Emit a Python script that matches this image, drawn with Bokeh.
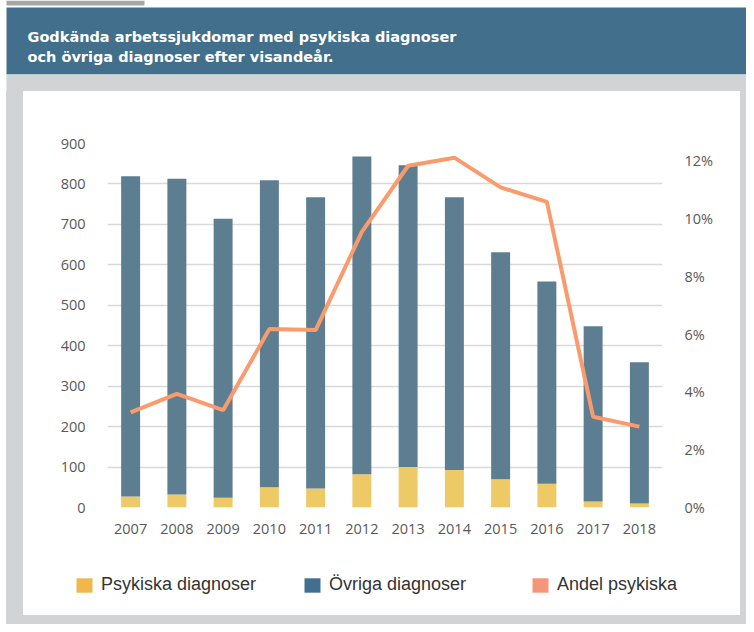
from bokeh.plotting import figure
from bokeh.layouts import column, row
from bokeh.models import (FactorRange, Range1d, LinearAxis, FixedTicker, NumeralTickFormatter,
                          Legend, LegendItem, ColumnDataSource, Div)
from bokeh.core.properties import value
from bokeh.embed import file_html
from bokeh.resources import INLINE

# ---------------- data ----------------
years = ["2007", "2008", "2009", "2010", "2011", "2012",
         "2013", "2014", "2015", "2016", "2017", "2018"]
psykiska = [27, 32, 24, 50, 47, 82, 100, 93, 70, 59, 15, 10]
ovriga = [792, 781, 690, 759, 720, 786, 746, 674, 561, 500, 433, 349]
andel_pct = [3.29, 3.93, 3.37, 6.18, 6.14, 9.54, 11.83, 12.11, 11.08, 10.58, 3.14, 2.80]
left_ticks = [0, 100, 200, 300, 400, 500, 600, 700, 800, 900]
right_ticks_pct = [0, 2, 4, 6, 8, 10, 12]
title_lines = ["Godkända arbetssjukdomar med psykiska diagnoser",
               "och övriga diagnoser efter visandeår."]
legend_labels = ["Psykiska diagnoser", "Övriga diagnoser", "Andel psykiska"]
legend_colors = ["#f1b64c", "#41708f", "#f59678"]

# ---------------- styles ----------------
TOTAL_W = 746
HDR_H = 91
PANEL_W = 717          # white panel width
PANEL_H = 524          # white panel height
MAIN_H = 450
LEG_H = PANEL_H - MAIN_H
BAR_YELLOW = "#eeca66"
BAR_BLUE = "#5c7e90"
LINE_COLOR = "#fa9b6e"
HEADER_BLUE = "#426f8c"
BG_GRAY = "#d1d3d4"
TOP_GRAY = "#a6a6a9"
TICK_COLOR = "#595959"
TICK_FONT = "Open Sans"
TICK_SIZE = "14.5px"


def bare(fig):
    fig.xgrid.grid_line_color = None
    fig.ygrid.grid_line_color = None
    fig.outline_line_color = None
    fig.background_fill_color = "white"
    fig.border_fill_color = "white"
    return fig


# ---------------- header (y measured upward from the header's bottom) ----------------
hdr = bare(figure(width=TOTAL_W, height=HDR_H, x_range=Range1d(0, TOTAL_W), y_range=Range1d(0, HDR_H),
                  min_border=0, x_axis_location=None, y_axis_location=None,
                  output_backend="svg", toolbar_location=None))
hdr.quad(left=[6], right=[144], top=[HDR_H], bottom=[HDR_H - 5], fill_color=TOP_GRAY, line_color=None)
hdr.quad(left=[6], right=[TOTAL_W], top=[HDR_H - 7], bottom=[HDR_H - 74],
         fill_color=HEADER_BLUE, line_color=None)
hdr.quad(left=[6], right=[TOTAL_W], top=[HDR_H - 74], bottom=[0], fill_color=BG_GRAY, line_color=None)
hdr.text(x=[27, 27], y=[HDR_H - 36.7, HDR_H - 56.7], text=title_lines,
         text_font=value("DejaVu Sans"), text_font_style="bold",
         text_font_size="14.5px", text_color="white",
         text_baseline="alphabetic", text_align="left")

# ---------------- main chart ----------------
src = ColumnDataSource(data=dict(
    year=years,
    psyk=psykiska,
    total=[a + b for a, b in zip(psykiska, ovriga)],
    andel=[v / 100.0 for v in andel_pct],
))

p = figure(width=PANEL_W, height=MAIN_H,
           x_range=FactorRange(factors=years, range_padding=0),
           y_range=Range1d(0, 900),
           output_backend="svg", toolbar_location=None,
           min_border_left=84, min_border_right=78,
           min_border_top=52, min_border_bottom=34)
p.extra_y_ranges = {"pct": Range1d(0, 0.126)}
bare(p)

p.vbar(x="year", bottom=0, top="psyk", width=0.41, source=src,
       fill_color=BAR_YELLOW, line_color=None)
p.vbar(x="year", bottom="psyk", top="total", width=0.41, source=src,
       fill_color=BAR_BLUE, line_color=None)
p.line(x="year", y="andel", source=src, y_range_name="pct",
       line_color=LINE_COLOR, line_width=4)

left = p.yaxis[0]
left.ticker = FixedTicker(ticks=left_ticks)
right = LinearAxis(y_range_name="pct",
                   ticker=FixedTicker(ticks=[t / 100.0 for t in right_ticks_pct]),
                   formatter=NumeralTickFormatter(format="0%"))
p.add_layout(right, "right")
for ax, standoff in ((left, 16), (right, 16), (p.xaxis[0], 10)):
    ax.axis_line_color = None
    ax.major_tick_line_color = None
    ax.minor_tick_line_color = None
    ax.major_label_text_font = TICK_FONT
    ax.major_label_text_font_size = TICK_SIZE
    ax.major_label_text_color = TICK_COLOR
    ax.major_label_standoff = standoff

p.ygrid.grid_line_color = "#d9d9d9"
p.ygrid.grid_line_width = 1.5

# ---------------- legend strip ----------------
lg = bare(figure(width=PANEL_W, height=LEG_H,
                 x_range=FactorRange(factors=years), y_range=Range1d(0, 1),
                 min_border=0, x_axis_location=None, y_axis_location=None,
                 output_backend="svg", toolbar_location=None))
items = []
for lbl, col in zip(legend_labels, legend_colors):
    # zero-height swatch renderers: they only supply the legend squares
    r = lg.vbar(x="year", bottom=0, top=0, width=0.1, source=src,
                fill_color=col, line_color=None)
    items.append(LegendItem(label=lbl, renderers=[r]))
leg = Legend(items=items, location=(51, 20), orientation="horizontal",
             border_line_color=None, background_fill_alpha=0,
             padding=0, margin=0, spacing=41,
             glyph_width=20, glyph_height=18, label_standoff=7,
             label_width=160, label_height=18,
             label_text_font="Liberation Sans", label_text_font_size="18px",
             label_text_color="#333333")
lg.add_layout(leg, "center")

# ---------------- gray frame strips ----------------
WHITE_GRAY = f"linear-gradient(to right, #ffffff 6px, {BG_GRAY} 6px)"
RIGHT_W = TOTAL_W - 23 - PANEL_W


def strip(w, h, bg):
    return Div(width=w, height=h, margin=0, text="", styles={"background": bg})


layout = column(
    hdr,
    row(strip(23, MAIN_H, WHITE_GRAY), p, strip(RIGHT_W, MAIN_H, BG_GRAY), spacing=0),
    row(strip(23, LEG_H, WHITE_GRAY), lg, strip(RIGHT_W, LEG_H, BG_GRAY), spacing=0),
    strip(TOTAL_W, 9, WHITE_GRAY),
    spacing=0)

open("out.html", "w").write(file_html(layout, INLINE))
